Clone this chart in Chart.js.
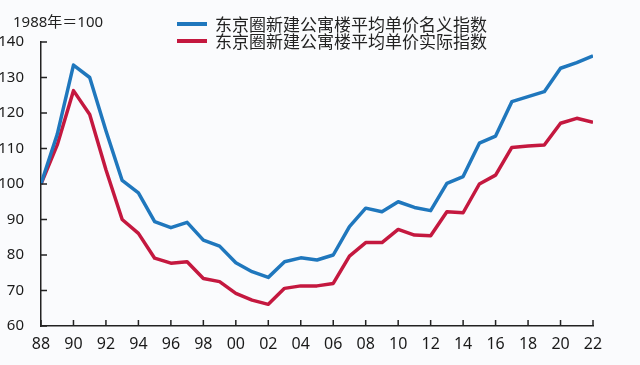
<!DOCTYPE html>
<html>
<head>
<meta charset="utf-8">
<script src="https://cdn.jsdelivr.net/npm/chart.js@4/dist/chart.umd.min.js"></script>
<style>
  html, body { margin: 0; padding: 0; background: #fafbfd; }
  #wrap { position: relative; width: 640px; height: 365px; }
  #wrap canvas { position: absolute; left: 0; top: 0; }
  .note { position: absolute; left: 13px; top: 10px; font: 15px "Noto Sans", "Noto Sans CJK SC", sans-serif; color: #222; }
  .legend { position: absolute; left: 177px; top: 15px; font: 17px "Noto Sans CJK SC", sans-serif; color: #222; line-height: 17px; }
  .legend div { display: flex; align-items: center; white-space: nowrap; }
  .legend span.key { display: inline-block; width: 30px; height: 4px; margin-right: 8px; }
</style>
</head>
<body>
<div id="wrap">
  <canvas id="chart" width="640" height="365"></canvas>
  <div class="note">1988年＝100</div>
  <div class="legend">
    <div><span class="key" style="background:#1f77bd"></span>东京圈新建公寓楼平均单价名义指数</div>
    <div><span class="key" style="background:#c4183f"></span>东京圈新建公寓楼平均单价实际指数</div>
  </div>
</div>
<script>
// années (1988 = 100)
const years = [1988, 1989, 1990, 1991, 1992, 1993, 1994, 1995, 1996, 1997, 1998, 1999,
               2000, 2001, 2002, 2003, 2004, 2005, 2006, 2007, 2008, 2009, 2010, 2011,
               2012, 2013, 2014, 2015, 2016, 2017, 2018, 2019, 2020, 2021, 2022];

// indice nominal
const nominal = [100, 114, 133.5, 130, 115, 101, 97.5, 89.4, 87.7, 89.2, 84.2, 82.5,
                 77.8, 75.3, 73.7, 78.1, 79.2, 78.6, 80, 88, 93.2, 92.2, 95, 93.4,
                 92.5, 100.2, 102.1, 111.5, 113.5, 123.2, 124.6, 126, 132.6, 134.2, 136.1];

// indice réel
const real = [100, 111, 126.3, 119.6, 104, 90, 86.1, 79.1, 77.7, 78.1, 73.4, 72.5,
              69.2, 67.3, 66.1, 70.6, 71.3, 71.3, 72, 79.7, 83.5, 83.5, 87.2, 85.6,
              85.4, 92.2, 91.9, 100, 102.5, 110.3, 110.7, 111, 117.1, 118.5, 117.4];

const yTicks = [60, 70, 80, 90, 100, 110, 120, 130, 140];

const toPoints = arr => years.map((y, i) => ({ x: y, y: arr[i] }));

// petits traits de graduation vers l'intérieur du graphique
const innerTicks = {
    id: 'innerTicks',
    afterDraw(chart) {
        const { ctx, scales: { x, y } } = chart;
        ctx.save();
        ctx.strokeStyle = '#222';
        ctx.lineWidth = 1.5;
        ctx.beginPath();
        x.ticks.forEach(t => {
            const px = x.getPixelForValue(t.value);
            ctx.moveTo(px, y.bottom);
            ctx.lineTo(px, y.bottom - 6);
        });
        y.ticks.forEach(t => {
            const py = y.getPixelForValue(t.value);
            ctx.moveTo(x.left, py);
            ctx.lineTo(x.left + 6, py);
        });
        ctx.stroke();
        ctx.restore();
    }
};

const ctx = document.getElementById('chart').getContext('2d');
new Chart(ctx, {
    type: 'line',
    data: {
        datasets: [
            {
                label: '东京圈新建公寓楼平均单价名义指数',
                data: toPoints(nominal),
                borderColor: '#1f77bd',
                borderWidth: 3.5,
                pointRadius: 0,
                tension: 0,
                borderJoinStyle: 'round'
            },
            {
                label: '东京圈新建公寓楼平均单价实际指数',
                data: toPoints(real),
                borderColor: '#c4183f',
                borderWidth: 3.5,
                pointRadius: 0,
                tension: 0,
                borderJoinStyle: 'round'
            }
        ]
    },
    options: {
        responsive: false,
        animation: false,
        layout: { padding: { top: 42, right: 47, bottom: 0, left: 0 } },
        plugins: { legend: { display: false }, tooltip: { enabled: false } },
        scales: {
            x: {
                type: 'linear',
                min: years[0],
                max: years[years.length - 1],
                afterFit: s => { s.height = 39; },
                afterBuildTicks: s => { s.ticks = years.filter(y => y % 2 === 0).map(v => ({ value: v })); },
                ticks: {
                    padding: 1,
                    color: '#1a1a1a',
                    font: { family: 'Noto Sans', size: 16 },
                    maxRotation: 0,
                    autoSkip: false,
                    callback: v => String(v).slice(2)
                },
                grid: { display: false },
                border: { color: '#222', width: 1.5 }
            },
            y: {
                min: yTicks[0],
                max: yTicks[yTicks.length - 1],
                afterFit: s => { s.width = 41; },
                afterBuildTicks: s => { s.ticks = yTicks.map(v => ({ value: v })); },
                ticks: {
                    padding: 9,
                    color: '#1a1a1a',
                    font: { family: 'Noto Sans', size: 15 }
                },
                grid: { display: false },
                border: { color: '#222', width: 1.5 }
            }
        }
    },
    plugins: [innerTicks]
});
</script>
</body>
</html>
